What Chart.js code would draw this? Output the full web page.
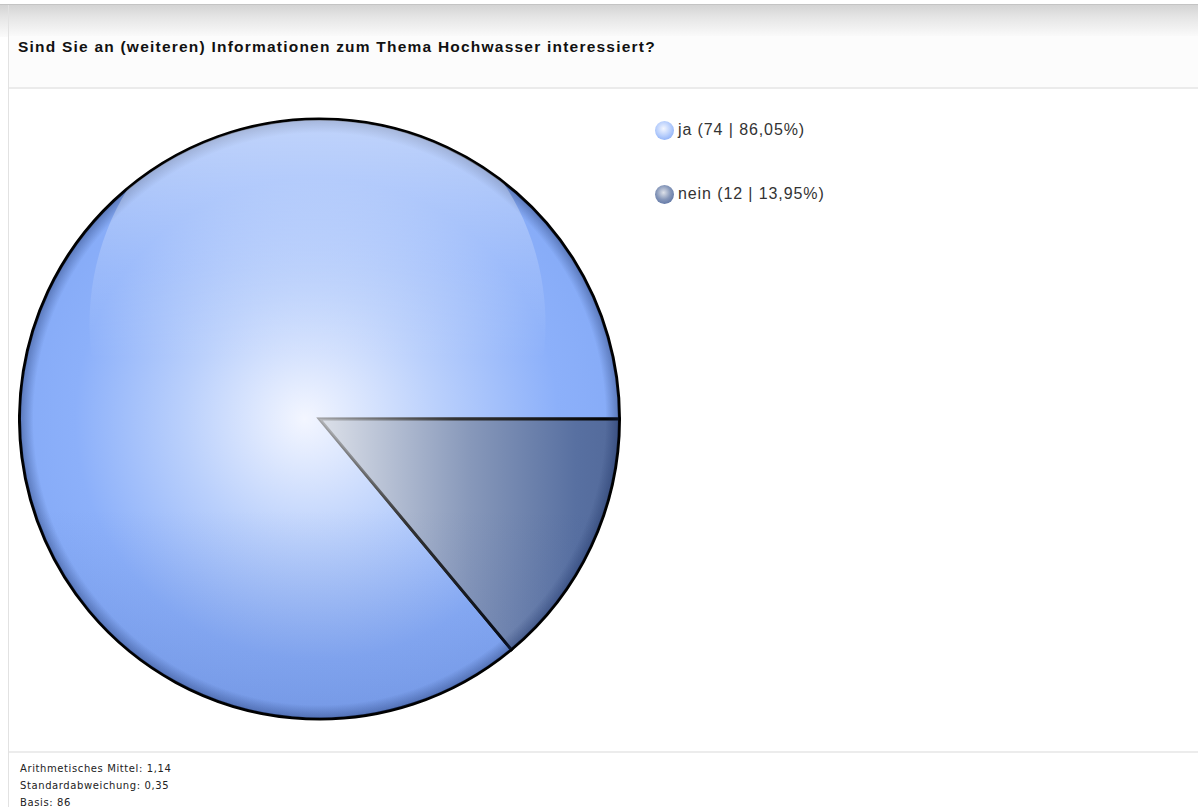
<!DOCTYPE html>
<html>
<head>
<meta charset="utf-8">
<script src="https://cdn.jsdelivr.net/npm/chart.js@4.4.0/dist/chart.umd.min.js"></script>
<style>
    body { margin: 0; background: #fff; font-family: "Liberation Sans", Arial, sans-serif; }
    #page { position: relative; width: 1198px; height: 807px; overflow: hidden; }
    #topbar { position: absolute; left: 0; top: 4px; width: 1198px; height: 32px;
        border-top: 1px solid #c4c4c4;
        background: linear-gradient(#d4d4d4, #e6e6e6 40%, #fbfbfb); }
    #panel { position: absolute; left: 8px; top: 5px; width: 1190px; height: 802px;
        border-left: 1px solid #e2e2e2; }
    #header { position: absolute; left: 9px; top: 36px; width: 1189px; height: 51px; background: #fcfcfc;
        border-bottom: 2px solid #ebebeb; }
    #title { position: absolute; left: 18px; top: 38px; font-size: 15.5px; font-weight: bold; color: #111;
        letter-spacing: 1.22px; }
    #chart-box { position: absolute; left: 18px; top: 115px; width: 603px; height: 608px; }
    #legend { position: absolute; left: 655px; top: 120px; }
    .item { position: relative; height: 22px; margin-bottom: 42px; font-size: 16px; color: #333; letter-spacing: 0.9px; }
    .dot { position: absolute; left: 0; top: 1px; width: 19px; height: 19px; border-radius: 50%; }
    .item span { position: absolute; left: 23px; top: 1px; white-space: nowrap; }
    #footer { position: absolute; left: 9px; top: 751px; width: 1189px; border-top: 2px solid #ececec; }
    #stats { position: absolute; left: 20px; top: 760px; font-family: "DejaVu Sans", sans-serif; font-size: 10px;
        color: #222; line-height: 17px; letter-spacing: 0.6px; }
</style>
</head>
<body>
<div id="page">
    <div id="topbar"></div>
    <div id="panel"></div>
    <div id="header"></div>
    <div id="title">Sind Sie an (weiteren) Informationen zum Thema Hochwasser interessiert?</div>
    <div id="chart-box"><canvas id="pie"></canvas></div>
    <div id="legend"></div>
    <div id="footer"></div>
    <div id="stats"></div>
</div>
<script>
const categories = ['ja', 'nein'];
const counts = [74, 12];
const percents = ['86,05%', '13,95%'];
const statLines = ['Arithmetisches Mittel: 1,14', 'Standardabweichung: 0,35', 'Basis: 86'];

// inner / outer colours per slice
const innerColors = ['#f3f6ff', '#dde1e9'];
const midColors = ['#bad0fc', '#8798ba'];
const outerColors = ['#86abf7', '#5870a1'];

const total = counts.reduce((a, b) => a + b, 0);
// second slice sits right below 3 o'clock, going clockwise
const startAngle = 90 + 360 * counts[1] / total;

// pie centre and radius straight from the chart area
function pieGeometry(chart) {
    const a = chart.chartArea;
    if (!a) return null;
    return {
        x: (a.left + a.right) / 2,
        y: (a.top + a.bottom) / 2,
        r: Math.min(a.right - a.left, a.bottom - a.top) / 2
    };
}

function sliceFill(context) {
    const i = context.dataIndex;
    const geo = pieGeometry(context.chart);
    if (!geo) return midColors[i];
    const ctx = context.chart.ctx;
    const {x, y, r} = geo;
    let g;
    if (i === 0) {
        g = ctx.createRadialGradient(x - 15, y, 0, x, y, r);
        g.addColorStop(0, innerColors[i]);
        g.addColorStop(0.42, midColors[i]);
        g.addColorStop(0.8, '#8cb0fa');
        g.addColorStop(1, outerColors[i]);
    } else {
        g = ctx.createLinearGradient(x, y, x + r, y);
        g.addColorStop(0, innerColors[i]);
        g.addColorStop(0.5, midColors[i]);
        g.addColorStop(0.85, outerColors[i]);
        g.addColorStop(1, '#52699a');
    }
    return g;
}

function sliceBorder(context) {
    const geo = pieGeometry(context.chart);
    if (!geo) return '#000';
    const g = context.chart.ctx.createRadialGradient(geo.x, geo.y, 0, geo.x, geo.y, geo.r);
    g.addColorStop(0, 'rgba(140,140,140,0.5)');
    g.addColorStop(0.45, '#333');
    g.addColorStop(1, '#000');
    return g;
}

// glossy highlight on top and dark rim, clipped to the pie
const glossPlugin = {
    id: 'gloss',
    afterDatasetsDraw(chart) {
        const arc = chart.getDatasetMeta(0).data[0];
        if (!arc) return;
        const {x, y, outerRadius: r} = arc;
        const ctx = chart.ctx;
        ctx.save();
        ctx.beginPath();
        ctx.arc(x, y, r - 1, 0, Math.PI * 2);
        ctx.clip();

        // darker band along the rim and towards the bottom
        const rim = ctx.createRadialGradient(x, y, r - 14, x, y, r);
        rim.addColorStop(0, 'rgba(20,40,90,0)');
        rim.addColorStop(1, 'rgba(20,40,90,0.4)');
        ctx.fillStyle = rim;
        ctx.fillRect(x - r, y - r, 2 * r, 2 * r);

        const low = ctx.createLinearGradient(0, y + r * 0.3, 0, y + r);
        low.addColorStop(0, 'rgba(40,70,150,0)');
        low.addColorStop(1, 'rgba(40,70,150,0.18)');
        ctx.fillStyle = low;
        ctx.fillRect(x - r, y, 2 * r, r);

        ctx.beginPath();
        ctx.ellipse(x - 2, y - 95, r * 0.76, r * 0.63 + 55, 0, 0, Math.PI * 2);
        const hl = ctx.createLinearGradient(0, y - r + 15, 0, y - 60);
        hl.addColorStop(0, 'rgba(255,255,255,0.45)');
        hl.addColorStop(0.6, 'rgba(255,255,255,0.15)');
        hl.addColorStop(1, 'rgba(255,255,255,0)');
        ctx.fillStyle = hl;
        ctx.fill();
        ctx.restore();
    }
};

new Chart(document.getElementById('pie'), {
    type: 'pie',
    data: {
        labels: categories,
        datasets: [{
            data: counts,
            backgroundColor: sliceFill,
            borderColor: sliceBorder,
            borderWidth: 3,
            borderJoinStyle: 'miter'
        }]
    },
    options: {
        responsive: true,
        maintainAspectRatio: false,
        animation: false,
        rotation: startAngle,
        layout: { padding: 0 },
        plugins: {
            legend: { display: false },
            tooltip: { enabled: false }
        }
    },
    plugins: [glossPlugin]
});

// legend with little sphere icons
const legendBox = document.getElementById('legend');
categories.forEach((cat, i) => {
    const item = document.createElement('div');
    item.className = 'item';
    const dot = document.createElement('div');
    dot.className = 'dot';
    dot.style.background = `radial-gradient(circle at 45% 40%, ${innerColors[i]}, ${midColors[i]} 45%, ${outerColors[i]} 85%, #3a4f7a)`;
    const label = document.createElement('span');
    label.textContent = `${cat} (${counts[i]} | ${percents[i]})`;
    item.appendChild(dot);
    item.appendChild(label);
    legendBox.appendChild(item);
});

document.getElementById('stats').innerHTML = statLines.join('<br>');
</script>
</body>
</html>
